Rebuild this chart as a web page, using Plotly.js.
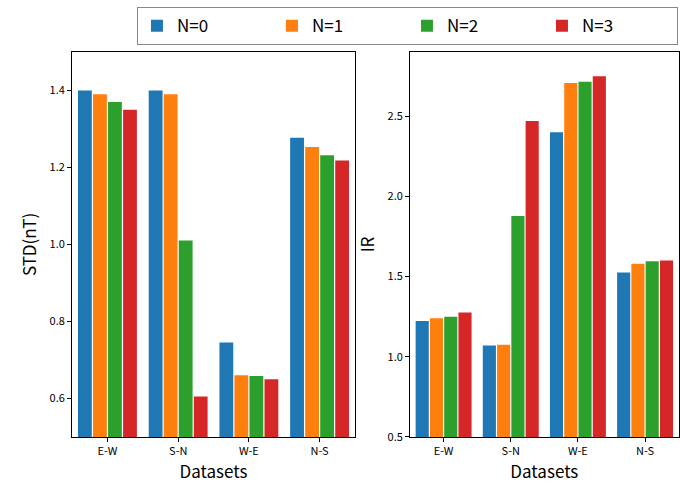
<!DOCTYPE html>
<html><head><script src="https://cdn.plot.ly/plotly-3.0.1.min.js"></script></head>
<body style="margin:0"><div id="c" style="width:680px;height:486px"></div>
<script>
const categories = ["E-W","S-N","W-E","N-S"];
const seriesNames = ["N=0","N=1","N=2","N=3"];
const colors = ["#1f77b4","#ff7f0e","#2ca02c","#d62728"];
const stdValues = [
  [1.40,1.40,0.745,1.277],
  [1.39,1.39,0.66,1.253],
  [1.37,1.01,0.658,1.232],
  [1.35,0.605,0.65,1.218]
];
const irValues = [
  [1.223,1.07,2.40,1.525],
  [1.24,1.075,2.706,1.58],
  [1.25,1.877,2.715,1.595],
  [1.275,2.469,2.749,1.60]
];
const traces = [];
seriesNames.forEach((n,i)=>{
  traces.push({type:"bar",x:categories,y:stdValues[i],name:n,marker:{color:colors[i]},xaxis:"x",yaxis:"y",legendgroup:n});
  traces.push({type:"bar",x:categories,y:irValues[i],name:n,marker:{color:colors[i]},xaxis:"x2",yaxis:"y2",legendgroup:n,showlegend:false});
});
const ax = {showline:true,mirror:true,linecolor:"#000",ticks:"outside",ticklen:4,tickcolor:"#000",showgrid:false,zeroline:false,tickfont:{size:11}};
const layout = {
  font:{family:"Noto Sans CJK SC, DejaVu Sans",color:"#000"},
  paper_bgcolor:"#fff",plot_bgcolor:"#fff",
  margin:{l:0,r:0,t:0,b:0},
  barmode:"group",bargap:0.15,bargroupgap:0.08,
  showlegend:true,
  legend:{orientation:"h",x:0.997,y:0.985,xanchor:"right",yanchor:"top",bordercolor:"#888",borderwidth:1,font:{size:17},entrywidth:90,bgcolor:"#fff"},
  xaxis:Object.assign({},ax,{domain:[0.106,0.522],title:{text:"Datasets",font:{size:17},standoff:4}}),
  yaxis:Object.assign({},ax,{domain:[0.101,0.893],range:[0.5,1.5],tickvals:[0.6,0.8,1.0,1.2,1.4],ticktext:["0.6","0.8","1.0","1.2","1.4"],title:{text:"STD(nT)",font:{size:17},standoff:8}}),
  xaxis2:Object.assign({},ax,{anchor:"y2",domain:[0.603,0.998],title:{text:"Datasets",font:{size:17},standoff:4}}),
  yaxis2:Object.assign({},ax,{anchor:"x2",domain:[0.101,0.893],range:[0.5,2.9],tickvals:[0.5,1.0,1.5,2.0,2.5],ticktext:["0.5","1.0","1.5","2.0","2.5"],title:{text:"IR",font:{size:17},standoff:8}})
};
Plotly.newPlot("c",traces,layout,{displayModeBar:false});
</script></body></html>
